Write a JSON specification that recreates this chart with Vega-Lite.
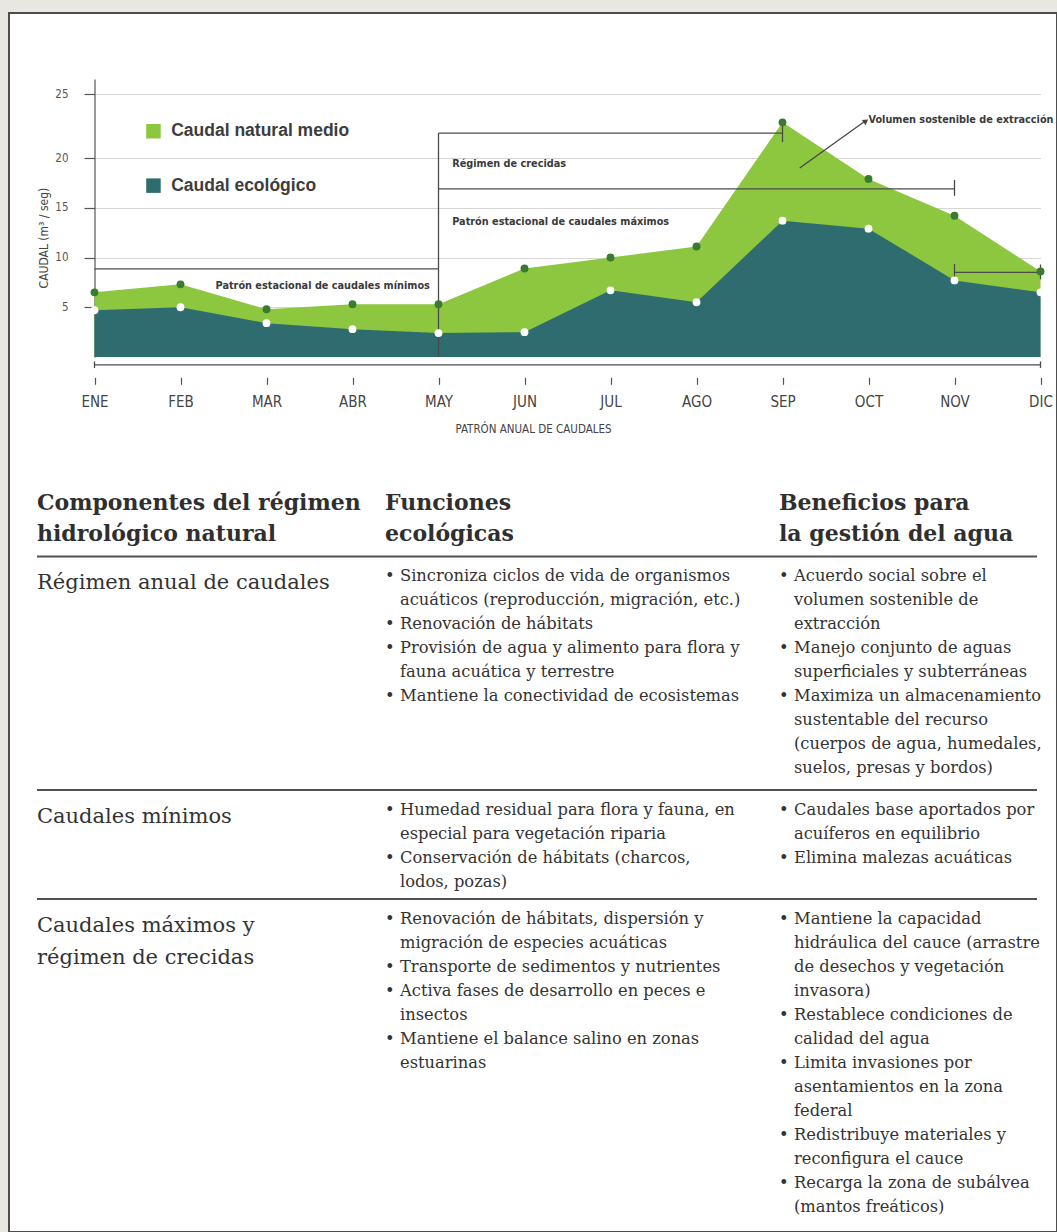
{
  "$schema": "https://vega.github.io/schema/vega-lite/v6.json",
  "width": 1048,
  "height": 1219,
  "autosize": {"type": "none"},
  "padding": {"left": 9, "top": 13, "right": 0, "bottom": 0},
  "background": "#e8e7e2",
  "view": {"fill": "#ffffff", "stroke": "#4d4d4d", "strokeWidth": 2},
  "datasets": {
    "caudales": [
      {"mes": "ENE", "m": 0, "serie": "Caudal natural medio", "q": 6.5},
      {"mes": "FEB", "m": 1, "serie": "Caudal natural medio", "q": 7.3},
      {"mes": "MAR", "m": 2, "serie": "Caudal natural medio", "q": 4.8},
      {"mes": "ABR", "m": 3, "serie": "Caudal natural medio", "q": 5.3},
      {"mes": "MAY", "m": 4, "serie": "Caudal natural medio", "q": 5.3},
      {"mes": "JUN", "m": 5, "serie": "Caudal natural medio", "q": 8.9},
      {"mes": "JUL", "m": 6, "serie": "Caudal natural medio", "q": 10.0},
      {"mes": "AGO", "m": 7, "serie": "Caudal natural medio", "q": 11.1},
      {"mes": "SEP", "m": 8, "serie": "Caudal natural medio", "q": 22.8},
      {"mes": "OCT", "m": 9, "serie": "Caudal natural medio", "q": 17.9},
      {"mes": "NOV", "m": 10, "serie": "Caudal natural medio", "q": 14.2},
      {"mes": "DIC", "m": 11, "serie": "Caudal natural medio", "q": 8.6},
      {"mes": "ENE", "m": 0, "serie": "Caudal ecológico", "q": 4.7},
      {"mes": "FEB", "m": 1, "serie": "Caudal ecológico", "q": 5.0},
      {"mes": "MAR", "m": 2, "serie": "Caudal ecológico", "q": 3.4},
      {"mes": "ABR", "m": 3, "serie": "Caudal ecológico", "q": 2.8},
      {"mes": "MAY", "m": 4, "serie": "Caudal ecológico", "q": 2.4},
      {"mes": "JUN", "m": 5, "serie": "Caudal ecológico", "q": 2.5},
      {"mes": "JUL", "m": 6, "serie": "Caudal ecológico", "q": 6.7},
      {"mes": "AGO", "m": 7, "serie": "Caudal ecológico", "q": 5.5},
      {"mes": "SEP", "m": 8, "serie": "Caudal ecológico", "q": 13.7},
      {"mes": "OCT", "m": 9, "serie": "Caudal ecológico", "q": 12.9},
      {"mes": "NOV", "m": 10, "serie": "Caudal ecológico", "q": 7.7},
      {"mes": "DIC", "m": 11, "serie": "Caudal ecológico", "q": 6.5}
    ],
    "segmentos": [
      {"m": 0, "m2": 4, "q": 8.85, "q2": 8.85},
      {"m": 4, "m2": 4, "q": 0, "q2": 21.95},
      {"m": 4, "m2": 8, "q": 21.95, "q2": 21.95},
      {"m": 8, "m2": 8, "q": 21.25, "q2": 22.6},
      {"m": 4, "m2": 10, "q": 16.9, "q2": 16.9},
      {"m": 10, "m2": 10, "q": 16.2, "q2": 17.8},
      {"m": 10, "m2": 11, "q": 8.5, "q2": 8.5},
      {"m": 10, "m2": 10, "q": 7.8, "q2": 9.35},
      {"m": 11, "m2": 11, "q": 7.8, "q2": 9.3},
      {"m": 0, "m2": 11, "q": -0.79, "q2": -0.79},
      {"m": 0, "m2": 0, "q": -0.45, "q2": -1.1},
      {"m": 11, "m2": 11, "q": -0.45, "q2": -1.1}
    ],
    "textos": [
      {"m": 3.9, "q": 7.15, "lado": "derecha", "texto": "Patrón estacional de caudales mínimos"},
      {"m": 4.16, "q": 19.39, "lado": "izquierda", "texto": "Régimen de crecidas"},
      {"m": 4.16, "q": 13.54, "lado": "izquierda", "texto": "Patrón estacional de caudales máximos"},
      {"m": 9.0, "q": 22.98, "lado": "izquierda", "texto": "Volumen sostenible de extracción"}
    ],
    "flecha": [{"m": 8.2, "q": 19.0, "m2": 8.95, "q2": 22.84}],
    "punta": [{"m": 8.97, "q": 22.9}],
    "celdas": [
      {"fila": 0, "columna": 1, "lineas": ["Componentes del régimen", "hidrológico natural"]},
      {"fila": 0, "columna": 2, "lineas": ["Funciones", "ecológicas"]},
      {"fila": 0, "columna": 3, "lineas": ["Beneficios para", "la gestión del agua"]},
      {"fila": 1, "columna": 1, "lineas": ["Régimen anual de caudales"]},
      {"fila": 1, "columna": 2, "lineas": ["Sincroniza ciclos de vida de  organismos", "acuáticos (reproducción, migración, etc.)", "Renovación de hábitats", "Provisión de agua y alimento para flora y", "fauna acuática y terrestre", "Mantiene la conectividad de ecosistemas"], "vinetas": ["•", "\u2800", "•", "•", "\u2800", "•"]},
      {"fila": 1, "columna": 3, "lineas": ["Acuerdo social  sobre el", "volumen sostenible de", "extracción", "Manejo conjunto de aguas", "superficiales y subterráneas", "Maximiza un almacenamiento", "sustentable del recurso", "(cuerpos de agua, humedales,", "suelos, presas y bordos)"], "vinetas": ["•", "\u2800", "\u2800", "•", "\u2800", "•", "\u2800", "\u2800", "\u2800"]},
      {"fila": 2, "columna": 1, "lineas": ["Caudales mínimos"]},
      {"fila": 2, "columna": 2, "lineas": ["Humedad residual para flora y fauna, en", "especial para vegetación riparia", "Conservación de hábitats (charcos,", "lodos, pozas)"], "vinetas": ["•", "\u2800", "•", "\u2800"]},
      {"fila": 2, "columna": 3, "lineas": ["Caudales base aportados por", "acuíferos en equilibrio", "Elimina malezas acuáticas"], "vinetas": ["•", "\u2800", "•"]},
      {"fila": 3, "columna": 1, "lineas": ["Caudales máximos y", "régimen de crecidas"]},
      {"fila": 3, "columna": 2, "lineas": ["Renovación de hábitats, dispersión y", "migración de especies acuáticas", "Transporte de sedimentos y nutrientes", "Activa fases de desarrollo en peces e", "insectos", "Mantiene el balance salino en zonas", "estuarinas"], "vinetas": ["•", "\u2800", "•", "•", "\u2800", "•", "\u2800"]},
      {"fila": 3, "columna": 3, "lineas": ["Mantiene la capacidad", "hidráulica del cauce (arrastre", "de desechos y vegetación", "invasora)", "Restablece condiciones de", "calidad del agua", "Limita invasiones por", "asentamientos en la zona", "federal", "Redistribuye materiales y", "reconfigura el cauce", "Recarga la zona de subálvea", "(mantos freáticos)"], "vinetas": ["•", "\u2800", "\u2800", "\u2800", "•", "\u2800", "•", "\u2800", "\u2800", "•", "\u2800", "•", "\u2800"]}
    ]
  },
  "layer": [
    {
      "encoding": {
        "x": {
          "field": "m", "type": "quantitative", "title": "PATRÓN ANUAL DE CAUDALES",
          "scale": {"type": "linear", "domain": [0, 11], "range": [85.5, 1031.5], "nice": false, "zero": false},
          "axis": {
            "orient": "bottom", "offset": -854.7, "values": [0,1,2,3,4,5,6,7,8,9,10,11],
            "labelExpr": "['ENE','FEB','MAR','ABR','MAY','JUN','JUL','AGO','SEP','OCT','NOV','DIC'][datum.value]",
            "domain": false, "grid": false, "tickSize": 7, "tickColor": "#555555", "tickWidth": 1.2,
            "labelFont": "DejaVu Sans Condensed, sans-serif", "labelFontSize": 15, "labelColor": "#454545",
            "labelPadding": 10, "labelFlush": false,
            "titleFont": "DejaVu Sans Condensed, sans-serif", "titleFontSize": 11.5, "titleFontWeight": "normal",
            "titleColor": "#444444", "titleX": 524, "titleY": 55, "titleBaseline": "alphabetic", "titleAlign": "center"
          }
        },
        "y": {
          "field": "q", "type": "quantitative", "title": "CAUDAL (m³ / seg)",
          "scale": {"type": "linear", "domain": [0, 20, 26.2], "range": [344, 145, 66], "nice": false, "zero": false},
          "axis": {
            "orient": "left", "offset": -85.5, "values": [5, 10, 15, 20, 25],
            "domain": true, "domainColor": "#555555", "domainWidth": 1.2,
            "tickSize": 10.5, "tickColor": "#555555", "tickWidth": 1.2,
            "grid": true, "gridColor": "#d6d6d6", "gridWidth": 1,
            "labelFont": "DejaVu Sans Condensed, sans-serif", "labelFontSize": 11.5, "labelColor": "#555555",
            "labelPadding": 16,
            "titleFont": "DejaVu Sans Condensed, sans-serif", "titleFontSize": 12, "titleFontWeight": "normal",
            "titleColor": "#444444", "titleX": -51.4, "titleY": 224.6, "titleAngle": 270, "titleAlign": "center", "titleBaseline": "middle"
          }
        }
      },
      "layer": [
        {
          "data": {"name": "caudales"},
          "transform": [{"filter": "datum.serie == 'Caudal natural medio'"}],
          "mark": {"type": "area", "opacity": 1},
          "encoding": {
            "color": {
              "field": "serie", "type": "nominal",
              "scale": {"domain": ["Caudal natural medio", "Caudal ecológico"], "range": ["#8dc63f", "#2e6c6f"]},
              "legend": {
                "title": null, "orient": "none", "legendX": 135.7, "legendY": 109.5, "direction": "vertical",
                "symbolType": "square", "symbolSize": 210, "symbolStrokeWidth": 0, "symbolOpacity": 1,
                "labelFont": "Liberation Sans, Arial, sans-serif", "labelFontWeight": "bold", "labelFontSize": 17.5,
                "labelColor": "#3d3d3d", "labelOffset": 9, "labelLimit": 0, "rowPadding": 35.4, "padding": 0, "offset": 0
              }
            }
          }
        },
        {
          "data": {"name": "caudales"},
          "transform": [{"filter": "datum.serie == 'Caudal ecológico'"}],
          "mark": {"type": "area", "opacity": 1},
          "encoding": {"color": {"field": "serie", "type": "nominal"}}
        },
        {
          "data": {"name": "segmentos"},
          "mark": {"type": "rule", "color": "#4a4a4a", "strokeWidth": 1.3},
          "encoding": {"x2": {"field": "m2"}, "y2": {"field": "q2"}}
        },
        {
          "data": {"name": "flecha"},
          "mark": {"type": "rule", "color": "#444444", "strokeWidth": 1.2},
          "encoding": {"x2": {"field": "m2"}, "y2": {"field": "q2"}}
        },
        {
          "data": {"name": "punta"},
          "mark": {"type": "point", "shape": "triangle-up", "filled": true, "color": "#444444", "opacity": 1, "size": 40, "angle": 54},
          "encoding": {}
        },
        {
          "data": {"name": "caudales"},
          "transform": [{"filter": "datum.serie == 'Caudal natural medio'"}],
          "mark": {"type": "point", "filled": true, "color": "#3b7a31", "opacity": 1, "size": 62, "strokeWidth": 0},
          "encoding": {}
        },
        {
          "data": {"name": "caudales"},
          "transform": [{"filter": "datum.serie == 'Caudal ecológico'"}],
          "mark": {"type": "point", "filled": true, "color": "#ffffff", "opacity": 1, "size": 62, "strokeWidth": 0},
          "encoding": {}
        },
        {
          "data": {"name": "textos"},
          "transform": [{"filter": "datum.lado == 'izquierda'"}],
          "mark": {"type": "text", "align": "left", "baseline": "middle", "font": "DejaVu Sans Condensed, sans-serif", "fontWeight": "bold", "fontSize": 10.8, "color": "#3a3a3a"},
          "encoding": {"text": {"field": "texto", "type": "nominal"}}
        },
        {
          "data": {"name": "textos"},
          "transform": [{"filter": "datum.lado == 'derecha'"}],
          "mark": {"type": "text", "align": "right", "baseline": "middle", "font": "DejaVu Sans Condensed, sans-serif", "fontWeight": "bold", "fontSize": 10.8, "color": "#3a3a3a"},
          "encoding": {"text": {"field": "texto", "type": "nominal"}}
        }
      ]
    },
    {
      "data": {"name": "celdas"},
      "encoding": {
        "x": {"field": "columna", "type": "quantitative", "scale": {"type": "linear", "domain": [1, 2, 3, 4], "range": [28, 376, 770, 1028], "nice": false, "zero": false}, "axis": null},
        "y": {"field": "fila", "type": "quantitative", "scale": {"type": "linear", "domain": [0, 1, 2, 3], "range": [480, 555, 788.6, 897.6], "nice": false, "zero": false}, "axis": null}
      },
      "layer": [
        {
          "transform": [{"filter": "datum.fila >= 1 && datum.columna == 1"}],
          "mark": {"type": "rule", "color": "#505050", "strokeWidth": 2, "yOffset": -11.5},
          "encoding": {"x2": {"datum": 4}}
        },
        {
          "transform": [{"filter": "datum.fila == 0"}],
          "mark": {"type": "text", "align": "left", "baseline": "top", "font": "DejaVu Serif", "fontWeight": "bold", "fontSize": 22, "lineHeight": 31, "color": "#2f2f2f"},
          "encoding": {"text": {"field": "lineas", "type": "nominal"}}
        },
        {
          "transform": [{"filter": "datum.fila >= 1 && datum.columna == 1"}],
          "mark": {"type": "text", "align": "left", "baseline": "top", "font": "DejaVu Serif", "fontSize": 21, "lineHeight": 32, "dy": 4, "color": "#333333"},
          "encoding": {"text": {"field": "lineas", "type": "nominal"}}
        },
        {
          "transform": [{"filter": "datum.fila >= 1 && datum.columna >= 2"}],
          "mark": {"type": "text", "align": "left", "baseline": "top", "font": "DejaVu Serif", "fontSize": 16.3, "lineHeight": 24, "dx": 15, "color": "#333333"},
          "encoding": {"text": {"field": "lineas", "type": "nominal"}}
        },
        {
          "transform": [{"filter": "datum.fila >= 1 && datum.columna >= 2"}],
          "mark": {"type": "text", "align": "left", "baseline": "top", "font": "DejaVu Serif", "fontSize": 16.3, "lineHeight": 24, "dx": 0, "color": "#333333"},
          "encoding": {"text": {"field": "vinetas", "type": "nominal"}}
        }
      ]
    }
  ],
  "resolve": {"scale": {"x": "independent", "y": "independent"}}
}
